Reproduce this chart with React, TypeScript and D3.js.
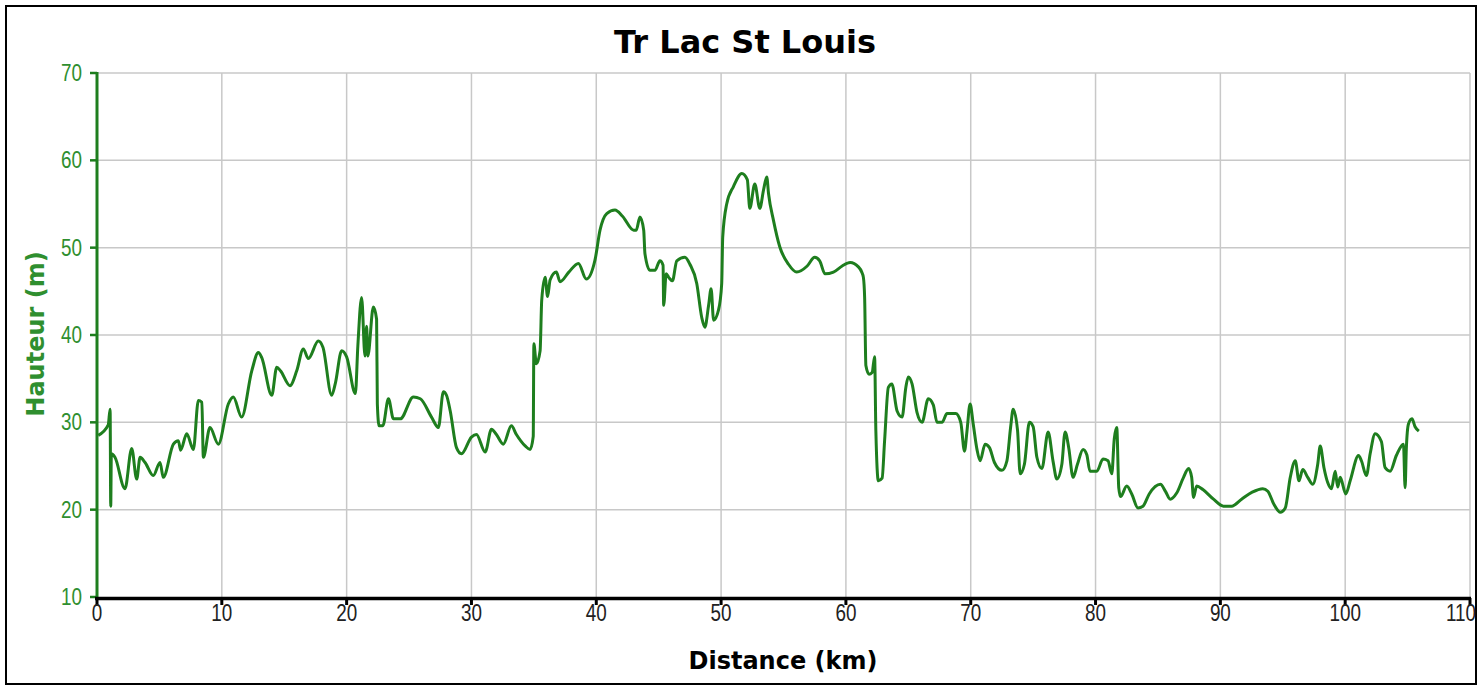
import { line, curveMonotoneX, scaleLinear, range } from 'd3';

const distanceKm = [
  0.1, 0.9, 1.05, 1.1, 1.15, 1.44, 2.24, 2.78, 3.18, 3.45, 3.85, 4.51, 5.05, 5.31, 6.12, 6.52, 6.7, 7.19, 7.72, 8.12,
  8.4, 8.52, 9.05, 9.72, 10.52, 10.92, 11.59, 12.4, 12.93, 13.2, 14.0, 14.4, 14.7, 15.46, 16.0, 16.53, 16.93, 17.73, 18.1, 18.8,
  19.1, 19.6, 20.0, 20.7, 20.9, 21.2, 21.47, 21.6, 21.7, 22.14, 22.4, 22.46, 22.6, 22.9, 23.35, 23.75, 24.3, 25.35, 25.9, 26.8,
  27.35, 27.75, 28.0, 28.3, 28.8, 29.2, 30.0, 30.4, 31.1, 31.6, 32.0, 32.55, 33.2, 33.6, 34.3, 34.7, 34.95, 35.0, 35.2, 35.5,
  35.63, 35.9, 36.1, 36.3, 36.8, 37.1, 37.8, 38.57, 39.2, 39.9, 40.3, 40.84, 41.5, 42.1, 43.0, 43.2, 43.5, 43.8, 43.9, 44.3,
  44.7, 45.1, 45.35, 45.4, 45.6, 45.8, 46.1, 46.45, 47.1, 47.5, 48.05, 48.45, 48.7, 49.0, 49.2, 49.4, 49.8, 50.05, 50.13, 50.45,
  50.99, 51.66, 52.1, 52.3, 52.7, 53.1, 53.4, 53.66, 53.8, 54.2, 54.7, 55.4, 56.06, 56.9, 57.5, 57.9, 58.33, 59.0, 59.7, 60.34,
  61.0, 61.27, 61.4, 61.5, 61.6, 61.85, 62.1, 62.3, 62.4, 62.6, 62.9, 63.1, 63.4, 63.68, 64.1, 64.5, 64.8, 65.0, 65.3, 65.7,
  66.1, 66.6, 67.0, 67.3, 67.7, 68.1, 68.8, 69.2, 69.5, 69.7, 69.95, 70.2, 70.5, 70.75, 71.15, 71.5, 71.9, 72.5, 72.9, 73.2,
  73.4, 73.75, 73.96, 74.3, 74.7, 75.0, 75.3, 75.7, 76.2, 76.6, 76.9, 77.3, 77.56, 77.85, 78.2, 78.55, 79.0, 79.3, 79.55, 80.1,
  80.6, 81.0, 81.3, 81.5, 81.7, 81.86, 82.0, 82.5, 82.9, 83.4, 83.8, 84.3, 85.2, 85.6, 85.98, 86.5, 87.05, 87.45, 87.7, 87.85,
  88.1, 88.6, 89.45, 90.25, 90.9, 91.7, 92.55, 93.4, 93.8, 94.3, 94.8, 95.2, 95.6, 96.0, 96.3, 96.6, 97.0, 97.4, 97.8, 98.0,
  98.3, 98.6, 98.9, 99.2, 99.4, 99.6, 100.05, 100.4, 101.07, 101.3, 101.7, 102.0, 102.4, 102.9, 103.2, 103.6, 104.1, 104.67, 104.8, 104.9,
  105.07, 105.35, 105.6, 105.9,
];

const heightM = [
  28.5, 29.7, 31.5, 20.4, 26.4, 26, 22.4, 27.0, 23.5, 26, 25.4, 23.9, 25.4, 23.7, 27.5, 27.9, 26.8, 28.7, 26.9, 32.5,
  32.3, 26.0, 29.4, 27.5, 32.1, 32.9, 30.6, 35.9, 38.0, 37.4, 33.1, 36.3, 35.9, 34.2, 35.9, 38.4, 37.3, 39.3, 38.6, 33.1,
  34.5, 38.2, 37.5, 33.3, 38.8, 44.3, 37.6, 41, 37.6, 43.2, 41.8, 32.1, 29.6, 29.6, 32.7, 30.4, 30.4, 32.9, 32.7, 30.6,
  29.4, 33.5, 33.1, 31.3, 27.1, 26.4, 28.3, 28.6, 26.6, 29.2, 28.6, 27.5, 29.6, 28.6, 27.3, 26.9, 28.4, 39.0, 36.7, 38.2,
  44.0, 46.6, 44.4, 46.3, 47.2, 46.1, 47.2, 48.2, 46.4, 48.6, 52.0, 53.9, 54.3, 53.6, 52.0, 52, 53.5, 52, 49.3, 47.4,
  47.4, 48.5, 48.0, 43.4, 47, 46.6, 46.2, 48.5, 48.9, 48.1, 45.9, 42.0, 40.9, 43.4, 45.3, 41.7, 42.9, 45.9, 51.2, 55.0,
  57.0, 58.5, 57.8, 54.5, 57.3, 54.5, 56.6, 58.1, 56.2, 53.1, 50.1, 48.1, 47.2, 47.9, 48.9, 48.5, 47.0, 47.2, 47.9, 48.3,
  47.8, 47.2, 46.6, 44.3, 36.5, 35.5, 35.7, 37.5, 29.0, 23.3, 23.6, 27.9, 34.0, 34.4, 31.3, 30.6, 34.0, 35.2, 34.4, 31.1,
  30.0, 32.7, 32, 30.0, 30.0, 31.0, 31.0, 30.0, 26.7, 29, 32.1, 29.8, 26.9, 25.6, 27.5, 27.1, 25.4, 24.5, 25.6, 29.5,
  31.5, 29.1, 24.1, 25.2, 30.0, 29.5, 26.0, 24.7, 28.9, 25.5, 23.5, 25.2, 28.9, 27.1, 23.7, 25.2, 26.9, 26.3, 24.4, 24.4,
  25.8, 25.6, 24.1, 28.1, 29.4, 22.5, 21.5, 22.7, 21.8, 20.2, 20.4, 21.8, 22.9, 22.1, 21.2, 21.9, 23.7, 24.7, 23.7, 21.4,
  22.7, 22.3, 21.2, 20.4, 20.4, 21.2, 22.0, 22.4, 22.1, 20.6, 19.7, 20.2, 23.7, 25.6, 23.3, 24.6, 23.7, 22.9, 25.2, 27.3,
  24.8, 23.1, 22.4, 24.4, 22.6, 23.7, 21.8, 23.3, 26.2, 25.6, 23.9, 26.4, 28.7, 27.8, 24.8, 24.4, 26.2, 27.5, 22.5, 27,
  29.8, 30.4, 29.5, 29.0,
];

const xTicks = range(0, 111, 10);
const yTicks = range(10, 71, 10);

const width = 1479;
const height = 687;
const plot = { left: 97, right: 1470, top: 73, bottom: 597 };
const green = '#1e7e1e';
const labelGreen = '#2f8f2f';
const tickFont = '"Liberation Sans", Arial, sans-serif';
const boldFont = '"DejaVu Sans", Verdana, sans-serif';

export default function App() {
  const x = scaleLinear().domain([0, 110]).range([plot.left, plot.right]);
  const y = scaleLinear().domain([10, 70]).range([plot.bottom, plot.top]);

  const points = distanceKm.map((d, i) => [d, heightM[i]] as [number, number]);
  const path = line<[number, number]>()
    .x(d => x(d[0]))
    .y(d => y(d[1]))
    .curve(curveMonotoneX)(points);

  return (
    <svg width={width} height={height} style={{ position: 'absolute', left: 0, top: 0, background: '#fff' }}>
      <rect x={6} y={6} width={width - 9} height={height - 9} fill="#fff" stroke="#000" strokeWidth={2} />

      {xTicks.filter(t => t > 0).map(t => (
        <line key={`gx${t}`} x1={x(t)} x2={x(t)} y1={plot.top} y2={plot.bottom} stroke="#c8c8c8" strokeWidth={1.5} />
      ))}
      {yTicks.filter(t => t > 10).map(t => (
        <line key={`gy${t}`} x1={plot.left} x2={plot.right} y1={y(t)} y2={y(t)} stroke="#c8c8c8" strokeWidth={1.5} />
      ))}

      <text x={745} y={53} textAnchor="middle" fontFamily={boldFont} fontWeight="bold" fontSize={32} fill="#000">
        Tr Lac St Louis
      </text>

      {path && <path d={path} fill="none" stroke={green} strokeWidth={3} strokeLinejoin="round" />}

      <line x1={plot.left} x2={plot.left} y1={plot.top - 1} y2={plot.bottom + 1} stroke={green} strokeWidth={3} />
      {yTicks.map(t => (
        <g key={`ty${t}`}>
          <line x1={plot.left - 7} x2={plot.left} y1={y(t)} y2={y(t)} stroke={green} strokeWidth={2.5} />
          <text
            transform={`translate(${plot.left - 15}, ${y(t) + 8}) scale(0.82, 1)`}
            textAnchor="end"
            fontFamily={tickFont}
            fontSize={23}
            fill={labelGreen}
          >
            {t}
          </text>
        </g>
      ))}

      <line x1={plot.left - 2} x2={plot.right + 1} y1={plot.bottom + 1.5} y2={plot.bottom + 1.5} stroke="#000" strokeWidth={3.5} />
      {xTicks.map((t, i) => {
        const last = i === xTicks.length - 1;
        return (
          <g key={`tx${t}`}>
            <line x1={x(t)} x2={x(t)} y1={plot.bottom + 1} y2={plot.bottom + 8} stroke="#000" strokeWidth={3} />
            <text
              transform={`translate(${last ? width - 3 : x(t)}, ${plot.bottom + 24}) scale(0.82, 1)`}
              textAnchor={last ? 'end' : 'middle'}
              fontFamily={tickFont}
              fontSize={23}
              fill="#222"
            >
              {t}
            </text>
          </g>
        );
      })}

      <text x={783} y={669} textAnchor="middle" fontFamily={boldFont} fontWeight="bold" fontSize={24} fill="#000">
        Distance (km)
      </text>
      <text
        transform="translate(44, 334) rotate(-90)"
        textAnchor="middle"
        fontFamily={boldFont}
        fontWeight="bold"
        fontSize={24}
        fill={labelGreen}
      >
        Hauteur (m)
      </text>
    </svg>
  );
}
